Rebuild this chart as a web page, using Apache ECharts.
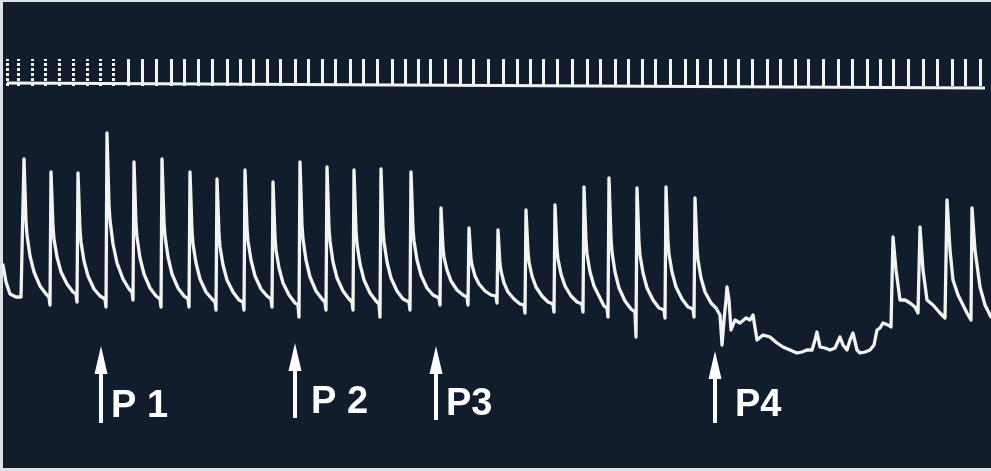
<!DOCTYPE html>
<html>
<head>
<meta charset="utf-8">
<script src="https://cdn.jsdelivr.net/npm/echarts@6/dist/echarts.min.js"></script>
<style>
html,body{margin:0;padding:0;background:#dde2e6;}
#c{width:991px;height:471px;}
</style>
</head>
<body>
<div id="c"></div>
<script>
// ---- Data read from the recording (x: time units, y: amplitude units) ----
const traceX = [3,6,10,16,21,23,
24,26,27,30,34,40,46,49,50,
51,53,54,57,61,67,73,76,77,
78,80,81,84,88,94,100,105,106,
107,109,110,113,117,123,129,132,133,
134,136,137,140,144,150,156,160,161,
162,164,165,168,172,178,184,188,189,
190,192,193,196,200,206,212,215,216,
217,219,220,223,227,233,239,243,244,
245,247,248,251,255,261,267,271,272,
273,275,276,279,283,289,295,298,299,
300,302,303,306,310,316,322,325,326,
327,329,330,333,337,343,349,352,353,
354,356,357,360,364,370,376,379,380,
381,383,384,387,391,397,403,409,410,
411,413,414,417,421,427,433,439,440,
441,443,444,447,451,457,463,467,468,
469,471,472,475,479,485,491,496,497,
498,500,501,504,508,514,520,524,525,
526,528,529,532,536,542,548,553,554,
555,557,558,561,565,571,577,582,583,
584,586,587,590,594,600,604,607,608,
609,611,612,615,619,625,631,635,636,
637,639,640,643,647,653,659,664,665,
666,668,669,672,676,682,688,693,694,
695,697,698,701,705,711,716,720,722,724,726,727,729,731,735,740,746,750,753,757,
763,770,777,783,790,797,802,807,812,815,817,820,825,830,835,840,843,847,850,853,
857,860,865,870,874,877,880,883,888,891,
893,896,900,905,910,915,918,
920,923,927,933,940,945,946,
947,950,953,958,963,967,971,
972,975,980,985,991];

const traceY = [206,189,177,174,174,176,
312,250,236,215,199,185,177,174,166,
299,244,232,214,199,187,179,177,169,
298,241,229,210,195,182,175,172,164,
338,266,251,227,208,192,182,179,171,
309,247,234,213,197,183,175,172,164,
312,249,235,214,197,183,175,172,164,
299,240,227,208,192,179,172,169,161,
292,237,224,206,191,179,171,169,161,
301,243,230,211,195,182,175,172,164,
289,234,221,203,188,176,168,166,154,
309,246,232,211,194,180,172,169,161,
304,243,230,209,193,180,172,169,161,
301,241,227,207,191,178,170,167,154,
302,242,229,209,193,180,172,169,161,
299,242,230,211,196,183,176,173,166,
263,223,214,201,190,181,176,174,166,
243,212,206,195,187,180,176,175,168,
241,207,200,188,179,172,167,166,158,
261,219,209,195,184,175,169,167,159,
266,221,212,197,185,175,169,167,159,
284,230,217,199,185,173,165,163,154,
293,233,219,199,183,170,162,159,134,
283,228,216,198,183,171,163,161,153,
284,229,217,199,184,172,164,162,154,
273,223,211,193,179,168,163,156,126,151,171,184,171,141,151,148,153,151,156,131,
136,134,128,124,121,118,119,121,121,131,139,124,123,121,123,134,126,121,131,138,
121,118,119,121,126,141,143,148,146,144,
234,201,171,171,168,164,158,
244,201,171,166,158,153,151,
271,221,191,176,166,158,151,
263,221,184,166,154];

// time-marker row
const tickX = [7,18,32,45,59,73,87,100,113,128,142,156,171,184,198,212,227,240,253,267,280,295,308,322,
335,350,363,377,392,405,418,430,445,460,473,488,503,517,530,543,557,572,587,600,615,628,642,655,
670,685,697,710,725,738,752,767,780,795,808,823,838,852,867,880,893,908,923,937,952,965,980];
const tickBase = 385;
const tickTop = 412;
const markerLineX = [7, 985];
const markerLineY = [388, 383];
const brokenTickCount = 9;

// stimulus arrows and labels
const arrowLabels = ['P 1', 'P 2', 'P3', 'P4'];
const arrowX = [101, 295, 436, 715];
const arrowBottom = [48, 53, 51, 48];
const arrowHead = [111, 114, 111, 106];
const labelX = [111, 311, 446, 735];
const labelY = [64, 68, 66, 65];

// ---- Build series ----
const n = Math.min(traceX.length, traceY.length);
const trace = [];
for (let i = 0; i < n; i++) trace.push([traceX[i], traceY[i]]);

const ticks = tickX.map((x, i) => {
  const item = { coords: [[x, tickBase], [x, tickTop]] };
  if (i < brokenTickCount) item.lineStyle = { type: [3, 2] };
  return item;
});

const shafts = arrowX.map((x, i) => ({ coords: [[x, arrowBottom[i]], [x, arrowHead[i]]] }));
const heads = arrowX.map((x, i) => [x, arrowHead[i]]);
const labels = arrowLabels.map((t, i) => ({ value: [labelX[i], labelY[i]], name: t }));

const ink = '#f3f4ef';
const chart = echarts.init(document.getElementById('c'), null, { renderer: 'canvas' });
chart.setOption({
  backgroundColor: '#dde2e6',
  animation: false,
  grid: { left: 3, right: 0, top: 2, bottom: 3, show: true, backgroundColor: '#111d2d', borderWidth: 0 },
  xAxis: { type: 'value', min: 3, max: 991, show: false },
  yAxis: { type: 'value', min: 3, max: 469, show: false },
  series: [
    {
      type: 'line', data: trace, showSymbol: false, symbol: 'none', silent: true,
      lineStyle: { color: ink, width: 3.3, join: 'round', cap: 'round' }, z: 3
    },
    {
      type: 'line', data: markerLineX.map((x, i) => [x, markerLineY[i]]), showSymbol: false, symbol: 'none', silent: true,
      lineStyle: { color: ink, width: 3 }
    },
    {
      type: 'lines', coordinateSystem: 'cartesian2d', data: ticks, silent: true,
      lineStyle: { color: ink, width: 3, opacity: 1, curveness: 0 }
    },
    {
      type: 'lines', coordinateSystem: 'cartesian2d', data: shafts, silent: true,
      lineStyle: { color: '#ffffff', width: 4, opacity: 1 }
    },
    {
      type: 'scatter', data: heads, symbol: 'triangle', symbolSize: [13, 28], silent: true,
      itemStyle: { color: '#ffffff', opacity: 1 }
    },
    {
      type: 'scatter', data: labels, symbolSize: 0, silent: true,
      itemStyle: { opacity: 1, color: '#ffffff' },
      label: {
        show: true, position: 'right', distance: 0, formatter: p => p.name, opacity: 1,
        color: '#ffffff', fontSize: 38, fontWeight: 'bold', fontFamily: 'Liberation Sans'
      }
    }
  ]
});
</script>
</body>
</html>
